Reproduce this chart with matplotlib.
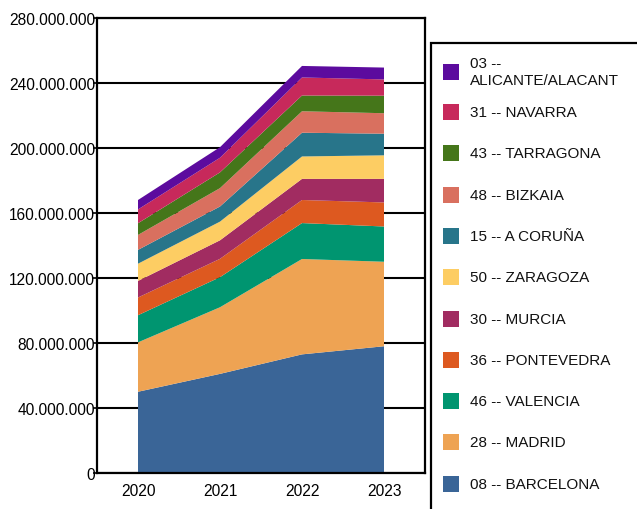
import matplotlib
matplotlib.use("Agg")
import matplotlib.pyplot as plt
from matplotlib.patches import Rectangle
from matplotlib.ticker import FuncFormatter, MultipleLocator

years = [2020, 2021, 2022, 2023]

# series in stacking order (bottom -> top), values in euros
names = ["08 -- BARCELONA", "28 -- MADRID", "46 -- VALENCIA", "36 -- PONTEVEDRA",
         "30 -- MURCIA", "50 -- ZARAGOZA", "15 -- A CORUÑA", "48 -- BIZKAIA",
         "43 -- TARRAGONA", "31 -- NAVARRA", "03 --\nALICANTE/ALACANT"]
barcelona = [50.0e6, 61.0e6, 73.0e6, 78.0e6]
madrid = [30.4e6, 41.0e6, 58.7e6, 52.0e6]
valencia = [16.7e6, 18.5e6, 22.1e6, 21.7e6]
pontevedra = [10.9e6, 11.3e6, 14.2e6, 14.8e6]
murcia = [10.2e6, 11.4e6, 13.0e6, 14.5e6]
zaragoza = [10.6e6, 11.5e6, 13.8e6, 14.5e6]
coruna = [8.5e6, 9.3e6, 14.6e6, 13.3e6]
bizkaia = [9.2e6, 11.3e6, 13.2e6, 12.6e6]
tarragona = [7.2e6, 9.7e6, 9.7e6, 10.8e6]
navarra = [8.5e6, 9.0e6, 11.1e6, 10.0e6]
alicante = [5.8e6, 6.5e6, 7.1e6, 7.3e6]
series = [barcelona, madrid, valencia, pontevedra, murcia, zaragoza,
          coruna, bizkaia, tarragona, navarra, alicante]
colors = ["#3a6597", "#eea353", "#009570", "#dd5920", "#a12c61", "#fdcd63",
          "#28758a", "#d9705f", "#45761a", "#c7295b", "#5c0b9e"]
yticks_step = 40e6

plt.rcParams['font.family'] = ['Liberation Sans', 'DejaVu Sans']

W, H = 637, 510
fig = plt.figure(figsize=(W / 100, H / 100), dpi=100)
ax = fig.add_axes([97 / W, 1 - 474 / H, 328 / W, 455 / H])

ax.stackplot(years, *series, colors=colors, linewidth=0, antialiased=True)

ax.set_xlim(2019.5, 2023.5)
ax.set_ylim(0, 280e6)
ax.set_xticks(years)
ax.yaxis.set_major_locator(MultipleLocator(yticks_step))
ax.yaxis.set_major_formatter(FuncFormatter(lambda v, p: f"{int(round(v)):,}".replace(",", ".")))
ax.set_axisbelow(True)
ax.grid(axis='y', color='black', linewidth=1.5)
for s in ax.spines.values():
    s.set_color('black')
    s.set_linewidth(1.6)
ax.tick_params(axis='y', length=3, width=1.2, pad=-1.5, labelsize=11.2, colors='black')
ax.tick_params(axis='x', length=0, pad=7, labelsize=11.2, colors='black')

# legend drawn in figure pixel coordinates
def fx(px):
    return px / W

def fy(py):
    return 1 - py / H

box = Rectangle((fx(431), fy(560)), fx(300), 516 / H, transform=fig.transFigure,
                fill=False, edgecolor='black', linewidth=1.6, clip_on=False)
fig.patches.append(box)

leg_names = names[::-1]
leg_colors = colors[::-1]
step = 41.3
for i, (n, c) in enumerate(zip(leg_names, leg_colors)):
    yc = 72.5 if i == 0 else 113 + (i - 1) * step
    fig.patches.append(Rectangle((fx(443), fy(yc + 8)), 16 / W, 16 / H,
                                 transform=fig.transFigure, facecolor=c,
                                 edgecolor='none'))
    fig.text(fx(470), fy(yc), n, ha='left', va='center', fontsize=11,
             color='#111111', linespacing=1.25)

fig.savefig("out.png", dpi=100)
